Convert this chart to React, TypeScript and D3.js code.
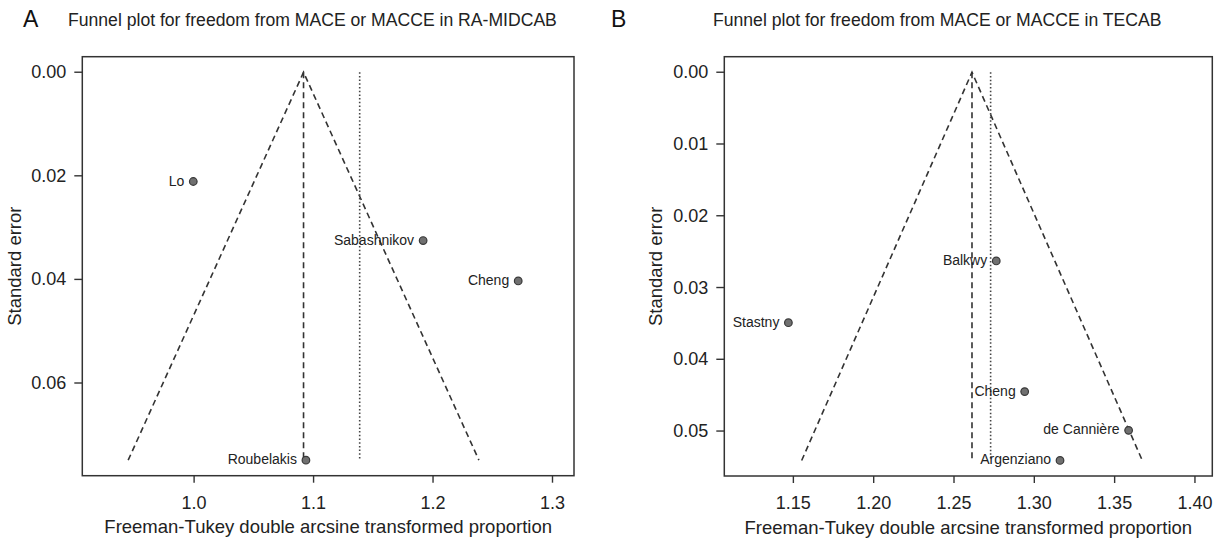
import React from "react";
import * as d3 from "d3";

// ---------- Data ----------
const studiesA = ["Lo", "Sabashnikov", "Cheng", "Roubelakis"];
const effectA = [0.9993, 1.1917, 1.2713, 1.0936];
const seA = [0.0211, 0.0325, 0.0403, 0.0749];
const pooledA = 1.0916;
const dottedA = 1.1386;
const xTicksA = [1.0, 1.1, 1.2, 1.3];
const yTicksA = [0.0, 0.02, 0.04, 0.06];
const xDomainA = [0.9064, 1.318];

const studiesB = ["Balkwy", "Stastny", "Cheng", "de Cannière", "Argenziano"];
const effectB = [1.2763, 1.1469, 1.294, 1.3587, 1.316];
const seB = [0.0263, 0.0349, 0.0445, 0.0499, 0.0541];
const pooledB = 1.2612;
const dottedB = 1.2728;
const xTicksB = [1.15, 1.2, 1.25, 1.3, 1.35, 1.4];
const yTicksB = [0.0, 0.01, 0.02, 0.03, 0.04, 0.05];
const xDomainB = [1.107, 1.4108];

const FONT = "'Liberation Sans', Arial, Helvetica, sans-serif";
const INK = "#333";

type PanelProps = {
  letter: string;
  title: string;
  studies: string[];
  effect: number[];
  se: number[];
  pooled: number;
  dotted: number;
  xTicks: number[];
  yTicks: number[];
  xDomain: number[];
  yFmt: (v: number) => string;
  xFmt: (v: number) => string;
  box: { x0: number; x1: number; y0: number; y1: number };
  letterX: number;
  titleX: number;
  yTitleX: number;
};

function Panel(p: PanelProps) {
  const maxSe = d3.max(p.se) as number;
  const ext = maxSe * 0.04;
  const x = d3.scaleLinear().domain(p.xDomain).range([p.box.x0, p.box.x1]);
  const y = d3.scaleLinear().domain([-ext, maxSe + ext]).range([p.box.y0, p.box.y1]);
  const z = 1.96;
  const funnel = d3.line<[number, number]>().x((d) => x(d[0])).y((d) => y(d[1]))([
    [p.pooled - z * maxSe, maxSe],
    [p.pooled, 0],
    [p.pooled + z * maxSe, maxSe],
  ]) as string;
  const cx = (p.box.x0 + p.box.x1) / 2;
  const cy = (p.box.y0 + p.box.y1) / 2;
  return (
    <g>
      <text x={p.letterX} y={27} fontSize={23} fill="#111" fontFamily={FONT}>
        {p.letter}
      </text>
      <text x={p.titleX} y={26} fontSize={17.6} fill="#222" fontFamily={FONT}>
        {p.title}
      </text>
      <rect
        x={p.box.x0}
        y={p.box.y0}
        width={p.box.x1 - p.box.x0}
        height={p.box.y1 - p.box.y0}
        fill="none"
        stroke={INK}
        strokeWidth={1.5}
      />
      <path d={funnel} fill="none" stroke={INK} strokeWidth={1.6} strokeDasharray="6,4" />
      <line
        x1={x(p.pooled)}
        x2={x(p.pooled)}
        y1={y(0)}
        y2={y(maxSe)}
        stroke={INK}
        strokeWidth={1.6}
        strokeDasharray="6,4"
      />
      <line
        x1={x(p.dotted)}
        x2={x(p.dotted)}
        y1={y(0)}
        y2={y(maxSe)}
        stroke="#444"
        strokeWidth={1.6}
        strokeDasharray="1.5,2.2"
      />
      {p.studies.map((s, i) => (
        <g key={s}>
          <circle cx={x(p.effect[i])} cy={y(p.se[i])} r={3.8} fill="#707070" stroke="#383838" strokeWidth={1.2} />
          <text
            x={x(p.effect[i]) - 9}
            y={y(p.se[i]) - 1}
            textAnchor="end"
            dominantBaseline="central"
            fontSize={14}
            fill="#222"
            fontFamily={FONT}
          >
            {s}
          </text>
        </g>
      ))}
      {p.yTicks.map((t) => (
        <g key={"y" + t}>
          <line x1={p.box.x0 - 8} x2={p.box.x0} y1={y(t)} y2={y(t)} stroke={INK} strokeWidth={1.4} />
          <text
            x={p.box.x0 - 16}
            y={y(t)}
            textAnchor="end"
            dominantBaseline="central"
            fontSize={18}
            fill="#222"
            fontFamily={FONT}
          >
            {p.yFmt(t)}
          </text>
        </g>
      ))}
      {p.xTicks.map((t) => (
        <g key={"x" + t}>
          <line x1={x(t)} x2={x(t)} y1={p.box.y1} y2={p.box.y1 + 7} stroke={INK} strokeWidth={1.4} />
          <text
            x={x(t)}
            y={p.box.y1 + 27}
            textAnchor="middle"
            dominantBaseline="central"
            fontSize={18}
            fill="#222"
            fontFamily={FONT}
          >
            {p.xFmt(t)}
          </text>
        </g>
      ))}
      <text
        x={cx}
        y={p.box.y1 + 51}
        textAnchor="middle"
        dominantBaseline="central"
        fontSize={18.5}
        fill="#222"
        fontFamily={FONT}
      >
        Freeman-Tukey double arcsine transformed proportion
      </text>
      <text
        transform={`translate(${p.yTitleX},${cy}) rotate(-90)`}
        textAnchor="middle"
        dominantBaseline="central"
        fontSize={18.5}
        fill="#222"
        fontFamily={FONT}
      >
        Standard error
      </text>
    </g>
  );
}

export default function App() {
  return (
    <svg
      width={1219}
      height={540}
      viewBox="0 0 1219 540"
      style={{ position: "absolute", left: 0, top: 0, background: "#fff" }}
    >
      <rect width={1219} height={540} fill="#fff" />
      <Panel
        letter="A"
        title="Funnel plot for freedom from MACE or MACCE in RA-MIDCAB"
        studies={studiesA}
        effect={effectA}
        se={seA}
        pooled={pooledA}
        dotted={dottedA}
        xTicks={xTicksA}
        yTicks={yTicksA}
        xDomain={xDomainA}
        yFmt={d3.format(".2f")}
        xFmt={d3.format(".1f")}
        box={{ x0: 82.3, x1: 574, y0: 56.7, y1: 475.7 }}
        letterX={23}
        titleX={68}
        yTitleX={14}
      />
      <Panel
        letter="B"
        title="Funnel plot for freedom from MACE or MACCE in TECAB"
        studies={studiesB}
        effect={effectB}
        se={seB}
        pooled={pooledB}
        dotted={dottedB}
        xTicks={xTicksB}
        yTicks={yTicksB}
        xDomain={xDomainB}
        yFmt={d3.format(".2f")}
        xFmt={d3.format(".2f")}
        box={{ x0: 724.3, x1: 1212.3, y0: 56.7, y1: 476 }}
        letterX={611}
        titleX={713}
        yTitleX={655}
      />
    </svg>
  );
}
